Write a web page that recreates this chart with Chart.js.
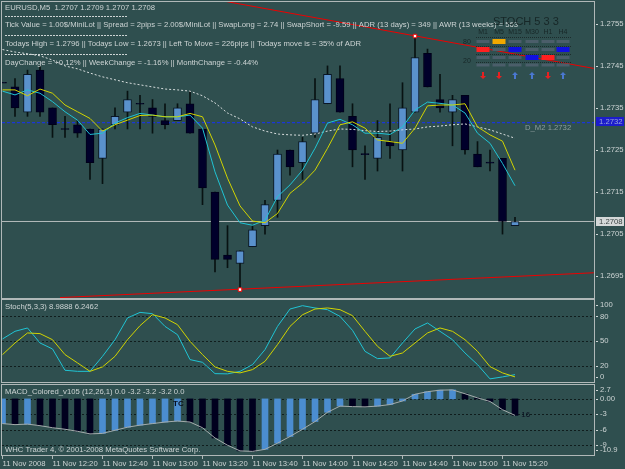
<!DOCTYPE html>
<html>
<head>
<meta charset="utf-8">
<script src="https://cdn.jsdelivr.net/npm/chart.js@4.4.1/dist/chart.umd.min.js"></script>
<style>
  html, body { margin: 0; padding: 0; width: 625px; height: 469px; overflow: hidden; background: #2f4f4f; }
  .pane { position: absolute; left: 0; width: 625px; }
  #pMain { top: 0; height: 299px; }
  #pStoch { top: 299px; height: 85px; }
  #pMacd { top: 384px; height: 85px; }
</style>
</head>
<body>
<div class="pane" id="pMain"><canvas id="cMain"></canvas></div>
<div class="pane" id="pStoch"><canvas id="cStoch"></canvas></div>
<div class="pane" id="pMacd"><canvas id="cMacd"></canvas></div>
<script>
// =======================
// Datos (EURUSD M5, 11 Nov 2008 12:00 - 15:25)
const opens = [1.2741, 1.2740, 1.2734, 1.2744, 1.2735, 1.2730, 1.2731, 1.2730, 1.2723, 1.2731, 1.2734, 1.2736, 1.2735, 1.2732,
  1.2732, 1.2736, 1.2730, 1.2715, 1.2700, 1.2698, 1.2702, 1.2707, 1.2713, 1.2725, 1.2722, 1.2729, 1.2736, 1.2742,
  1.2733, 1.2724, 1.2723, 1.2727, 1.2725, 1.2734, 1.2748, 1.2737, 1.2734, 1.2738, 1.2724, 1.2722, 1.2723, 1.2707];
const highs = [1.2741, 1.2742, 1.2744, 1.2745, 1.2735, 1.2733, 1.2732, 1.2730, 1.2730, 1.2735, 1.2739, 1.2738, 1.2737, 1.2736,
  1.2736, 1.2739, 1.2730, 1.2715, 1.2707, 1.2701, 1.2707, 1.2713, 1.2725, 1.2725, 1.2728, 1.2742, 1.2745, 1.2745,
  1.2736, 1.2726, 1.2732, 1.2736, 1.2741, 1.2752, 1.2749, 1.2743, 1.2738, 1.2738, 1.2727, 1.2725, 1.2723, 1.2709];
const lows = [1.2741, 1.2733, 1.2733, 1.2733, 1.2728, 1.2728, 1.2728, 1.2718, 1.2717, 1.2730, 1.2730, 1.2730, 1.2729, 1.2730,
  1.2732, 1.2729, 1.2712, 1.2696, 1.2697, 1.2692, 1.2702, 1.2705, 1.2709, 1.2719, 1.2718, 1.2728, 1.2736, 1.2734,
  1.2721, 1.2718, 1.2720, 1.2723, 1.2720, 1.2734, 1.2740, 1.2734, 1.2726, 1.2724, 1.2721, 1.2720, 1.2705, 1.2707];
const closes = [1.2741, 1.2735, 1.2743, 1.2734, 1.2731, 1.2730, 1.2729, 1.2722, 1.2730, 1.2733, 1.2737, 1.2736, 1.2733, 1.2731,
  1.2735, 1.2729, 1.2716, 1.2699, 1.2699, 1.2701, 1.2706, 1.2712, 1.2724, 1.2721, 1.2727, 1.2737, 1.2743, 1.2734,
  1.2725, 1.2724, 1.2728, 1.2726, 1.2735, 1.2747, 1.2740, 1.2735, 1.2737, 1.2725, 1.2721, 1.2722, 1.2708, 1.2708];

const maYellow = [1.27393, 1.27393, 1.27379, 1.27395, 1.27385, 1.27357, 1.27341, 1.27325, 1.27295, 1.27310, 1.27321, 1.27332,
  1.27333, 1.27329, 1.27329, 1.27337, 1.27329, 1.27262, 1.27183, 1.27117, 1.27081, 1.27077, 1.27099, 1.27147, 1.27171,
  1.27202, 1.27254, 1.27310, 1.27317, 1.27302, 1.27274, 1.27270, 1.27266, 1.27302, 1.27355, 1.27357, 1.27357, 1.27360,
  1.27305, 1.27286, 1.27271, 1.27202];
const maCyan = [1.27390, 1.27381, 1.27393, 1.27385, 1.27365, 1.27341, 1.27321, 1.27287, 1.27290, 1.27314, 1.27327, 1.27337,
  1.27333, 1.27329, 1.27329, 1.27333, 1.27302, 1.27198, 1.27119, 1.27077, 1.27071, 1.27083, 1.27139, 1.27167, 1.27202,
  1.27254, 1.27314, 1.27323, 1.27310, 1.27290, 1.27290, 1.27287, 1.27305, 1.27345, 1.27364, 1.27361, 1.27357, 1.27338,
  1.27290, 1.27266, 1.27218, 1.27165];
const maWhite = [1.27489, 1.27483, 1.27479, 1.27474, 1.27464, 1.27450, 1.27443, 1.27433, 1.27424, 1.27417, 1.27410, 1.27405,
  1.27400, 1.27395, 1.27393, 1.27390, 1.27379, 1.27362, 1.27338, 1.27324, 1.27305, 1.27295, 1.27288, 1.27286, 1.27285,
  1.27288, 1.27295, 1.27300, 1.27299, 1.27296, 1.27294, 1.27295, 1.27298, 1.27300, 1.27305, 1.27307, 1.27310, 1.27312,
  1.27305, 1.27298, 1.27288, 1.27278];

const stochMain = [52.5, 61.8, 65.9, 47.6, 40.3, 14.3, 13.0, 13.0, 31.3, 51.6, 78.1, 84.9, 83.3, 67.8, 57.7, 27.3, 24.0, 10.2,
  9.9, 13.0, 21.2, 39.5, 67.8, 89.0, 93.1, 90.3, 88.2, 80.0, 63.0, 37.4, 28.5, 29.4, 47.6, 64.7, 72.0, 61.8, 51.6, 35.4,
  21.2, 3.8, 6.2, 8.9888];
const stochSignal = [33.4, 47.6, 59.8, 59.0, 51.6, 33.4, 23.3, 13.0, 18.4, 31.3, 51.6, 68.7, 82.1, 78.1, 69.9, 49.6, 33.4,
  18.4, 13.0, 11.1, 15.1, 25.2, 45.6, 67.8, 82.0, 89.0, 90.3, 88.2, 80.9, 61.8, 43.5, 31.3, 35.4, 47.6, 59.8, 65.9, 61.8,
  51.6, 37.4, 18.8, 11.1, 6.2462];

const macdValues = [-4.8, -5.0, -4.9, -5.2, -5.6, -5.9, -6.3, -6.8, -6.7, -6.1, -5.5, -5.1, -4.8, -4.5, -4.3, -4.5, -5.6,
  -7.6, -9.0, -10.1, -10.2, -9.8, -8.6, -7.3, -5.9, -4.4, -2.6, -1.4, -1.5, -1.55, -1.4, -1.1, -0.4, 0.9, 1.4, 1.7, 1.75,
  1.0, 0.2, -0.5, -2.1, -3.2];

// niveles y lineas
const bidPrice = 1.2708;
const dM2Level = 1.27315;
const trendHigh = [[17.2, 1.27607], [47.3, 1.27444]];
const trendLow = [[4.6, 1.26899], [47.3, 1.26958]];
const trendMarks = [[33, 1.27521], [19, 1.26918]];

// ejes
const priceTicks = [1.2755, 1.2745, 1.2735, 1.2725, 1.2715, 1.2705, 1.2695];
const stochTicks = [100, 80, 50, 20, 0];
const stochLevels = [80, 50, 20];
const macdTicks = [2.7, 0, -3, -6, -9, -10.9];
const macdLevels = [0, -3, -6, -9];
const timeTicks = [0, 4, 8, 12, 16, 20, 24, 28, 32, 36, 40];
const timeLabels = ["11 Nov 2008", "11 Nov 12:20", "11 Nov 12:40", "11 Nov 13:00", "11 Nov 13:20", "11 Nov 13:40",
  "11 Nov 14:00", "11 Nov 14:20", "11 Nov 14:40", "11 Nov 15:00", "11 Nov 15:20"];

const infoLines = [
  "EURUSD,M5  1.2707 1.2709 1.2707 1.2708",
  "Tick Value = 1.00$/MiniLot || Spread = 2pips = 2.00$/MiniLot || SwapLong = 2.74 || SwapShort = -9.59 || ADR (13 days) = 349 || AWR (13 weeks) = 563",
  "Todays High = 1.2796 || Todays Low = 1.2673 || Left To Move = 226pips || Todays move is = 35% of ADR",
  "DayChange = +0.12% || WeekChange = -1.16% || MonthChange = -0.44%",
];
const stochTitle = "Stoch(5,3,3) 8.9888 6.2462";
const macdTitle = "MACD_Colored_v105 (12,26,1) 0.0 -3.2 -3.2 -3.2 0.0";
const footer = "WHC Trader 4, \u00a9 2001-2008 MetaQuotes Software Corp.";
const tfNames = ["M1", "M5", "M15", "M30", "H1", "H4"];
const tfArrowUp = [false, false, true, true, false, true];

// =======================
// Estilo
const FONT = '"Liberation Sans", Arial, sans-serif';
const TXT = "#cdd4d4";
const FRAME = "#b0b8b8";
const X_MIN = -0.04;
const X_MAX = 47.32;

const pts = (arr) => arr.map((v, i) => ({ x: i, y: v }));
const seg = (pairs) => pairs.map(([x, y]) => ({ x, y }));

function baseOptions(yMin, yMax, padding) {
  return {
    responsive: true,
    maintainAspectRatio: false,
    animation: false,
    events: [],
    layout: { autoPadding: false, padding },
    plugins: { legend: { display: false }, tooltip: { enabled: false } },
    scales: {
      x: { type: "linear", min: X_MIN, max: X_MAX, offset: false, display: false },
      y: {
        position: "right",
        min: yMin,
        max: yMax,
        grid: { display: false },
        border: { display: false },
        ticks: { display: false },
        afterFit: (s) => { s.width = 31; },
      },
    },
  };
}

// marco + etiquetas del eje derecho + niveles punteados
function panelPlugin(ticks, fmt, levels) {
  return {
    id: "panel",
    beforeDatasetsDraw(chart) {
      const { ctx, chartArea: a, scales } = chart;
      if (!levels) return;
      ctx.save();
      ctx.strokeStyle = "rgba(10,20,20,0.85)";
      ctx.lineWidth = 1;
      ctx.setLineDash([2, 2]);
      levels.forEach((v) => {
        const y = Math.round(scales.y.getPixelForValue(v)) + 0.5;
        ctx.beginPath();
        ctx.moveTo(a.left, y);
        ctx.lineTo(a.right, y);
        ctx.stroke();
      });
      ctx.restore();
    },
    afterDraw(chart) {
      const { ctx, chartArea: a, scales } = chart;
      ctx.save();
      ctx.strokeStyle = FRAME;
      ctx.lineWidth = 1;
      ctx.strokeRect(a.left - 0.5, a.top - 0.5, a.width + 1, a.height + 1);
      ctx.font = "7.7px " + FONT;
      ctx.fillStyle = TXT;
      ctx.textBaseline = "middle";
      ctx.textAlign = "left";
      ticks.forEach((v) => {
        let y = scales.y.getPixelForValue(v);
        y = Math.min(Math.max(y, a.top + 5), a.bottom - 5);
        ctx.fillRect(a.right + 2, Math.round(y), 2, 1);
        ctx.fillText(fmt(v), a.right + 6, y);
      });
      ctx.restore();
    },
  };
}

// =======================
// Panel principal: velas
const bodies = opens.map((o, i) => {
  const c = closes[i];
  const y = o === c ? [o - 0.000012, o + 0.000012] : [o, c];
  return { x: i, y };
});
const wicks = lows.map((l, i) => ({ x: i, y: [l, highs[i]] }));
const bull = opens.map((o, i) => closes[i] > o);

const mainOverlay = {
  id: "mainOverlay",
  afterDraw(chart) {
    const { ctx, chartArea: a, scales } = chart;
    const xs = scales.x, ys = scales.y;
    ctx.save();
    ctx.font = "7.7px " + FONT;
    ctx.textBaseline = "middle";
    ctx.fillStyle = TXT;
    const lineY = [8, 25, 44, 63];
    infoLines.forEach((t, i) => ctx.fillText(t, 5, lineY[i]));
    ctx.strokeStyle = TXT;
    ctx.setLineDash([2, 1]);
    [16, 35, 54].forEach((y) => {
      ctx.beginPath();
      ctx.moveTo(5, y + 0.5);
      ctx.lineTo(128, y + 0.5);
      ctx.stroke();
    });
    ctx.setLineDash([]);

    // etiqueta D_M2
    ctx.fillStyle = "#8c9c9c";
    ctx.fillText("D_M2 1.2732", xs.getPixelForValue(41.8), ys.getPixelForValue(dM2Level) + 5);

    // cajas de precio en el eje
    const box = (v, bg, fg) => {
      const y = Math.round(ys.getPixelForValue(v));
      ctx.fillStyle = bg;
      ctx.fillRect(a.right + 2, y - 4, 28, 9);
      ctx.fillStyle = fg;
      ctx.fillText(v.toFixed(4), a.right + 5, y + 0.5);
    };
    box(1.2732, "#1c1ccc", "#9aa6d8");
    box(bidPrice, "#d4d8d8", "#3a4444");

    // tabla STOCH 5 3 3
    ctx.fillStyle = "#172727";
    ctx.font = "11px " + FONT;
    ctx.fillText("STOCH 5 3 3", 493, 22);
    ctx.font = "7px " + FONT;
    ctx.textAlign = "center";
    const colX = [483, 499, 515, 532, 548, 563];
    tfNames.forEach((n, i) => ctx.fillText(n, colX[i], 32));
    ctx.fillText("80", 467, 42);
    ctx.fillText("20", 467, 61);
    ctx.strokeStyle = "#1c2c2c";
    ctx.setLineDash([1, 1]);
    [37, 46, 54, 62].forEach((y) => {
      ctx.beginPath();
      ctx.moveTo(476, y + 0.5);
      ctx.lineTo(571, y + 0.5);
      ctx.stroke();
    });
    ctx.setLineDash([]);
    const rowY = [41.5, 49.5, 57.5, 65];
    const cellColor = (r, c) => {
      if (r === 0 && c === 1) return "#f2a800";
      if (r === 1 && c === 0) return "#ff2020";
      if (r === 1 && (c === 2 || c === 5)) return "#1010e0";
      if (r === 2 && c === 3) return "#1010e0";
      if (r === 2 && c === 4) return "#ff2020";
      return "#4b5e6a";
    };
    rowY.forEach((y, r) => {
      colX.forEach((x, c) => {
        const col = cellColor(r, c);
        ctx.fillStyle = col;
        const h = col === "#4b5e6a" ? 3 : 5;
        ctx.fillRect(x - 6.5, y - h / 2, 13, h);
      });
    });
    colX.forEach((x, i) => {
      ctx.fillStyle = tfArrowUp[i] ? "#4a78d0" : "#e82020";
      ctx.beginPath();
      if (tfArrowUp[i]) {
        ctx.moveTo(x, 72); ctx.lineTo(x + 3, 75); ctx.lineTo(x + 1, 75); ctx.lineTo(x + 1, 79);
        ctx.lineTo(x - 1, 79); ctx.lineTo(x - 1, 75); ctx.lineTo(x - 3, 75);
      } else {
        ctx.moveTo(x, 79); ctx.lineTo(x + 3, 76); ctx.lineTo(x + 1, 76); ctx.lineTo(x + 1, 72);
        ctx.lineTo(x - 1, 72); ctx.lineTo(x - 1, 76); ctx.lineTo(x - 3, 76);
      }
      ctx.closePath();
      ctx.fill();
    });
    ctx.restore();
  },
};

new Chart(document.getElementById("cMain"), {
  type: "bar",
  data: {
    datasets: [
      { type: "line", label: "Bid", data: seg([[X_MIN, bidPrice], [X_MAX, bidPrice]]),
        borderColor: "#b4bcbc", borderWidth: 1, pointRadius: 0, order: 6 },
      { type: "line", label: "D_M2", data: seg([[X_MIN, dM2Level], [X_MAX, dM2Level]]),
        borderColor: "#1a36d8", borderWidth: 1.2, borderDash: [3, 2], pointRadius: 0, order: 5 },
      { label: "Mechas", data: wicks, grouped: false, barThickness: 1,
        backgroundColor: "#081212", borderWidth: 0, order: 4 },
      { label: "Velas", data: bodies, grouped: false, barThickness: 8, borderSkipped: false,
        backgroundColor: bull.map((b) => (b ? "#5a91cc" : "#00002a")),
        borderColor: bull.map((b) => (b ? "#0a1626" : "#000018")), borderWidth: 1, order: 3 },
      { type: "line", label: "MA lenta", data: pts(maWhite),
        borderColor: "#d8dede", borderWidth: 1, borderDash: [2, 2], pointRadius: 0, order: 2 },
      { type: "line", label: "MA amarilla", data: pts(maYellow),
        borderColor: "#d2d400", borderWidth: 1, pointRadius: 0, order: 1 },
      { type: "line", label: "MA cian", data: pts(maCyan),
        borderColor: "#20c4d4", borderWidth: 1, pointRadius: 0, order: 1 },
      { type: "line", label: "Tendencia alta", data: seg(trendHigh),
        borderColor: "#ee0000", borderWidth: 1, pointRadius: 0, order: 0 },
      { type: "line", label: "Tendencia baja", data: seg(trendLow),
        borderColor: "#ee0000", borderWidth: 1, pointRadius: 0, order: 0 },
      { type: "scatter", label: "Marcas", data: seg(trendMarks), pointStyle: "rect", pointRadius: 2.5,
        backgroundColor: "#ffffff", borderColor: "#ee0000", borderWidth: 1, order: -1 },
    ],
  },
  options: baseOptions(1.26898, 1.27602, { left: 2, top: 2, bottom: 1 }),
  plugins: [panelPlugin(priceTicks, (v) => v.toFixed(4)), mainOverlay],
});

// =======================
// Panel estocástico
const stochText = {
  id: "stochText",
  afterDraw(chart) {
    const { ctx } = chart;
    ctx.save();
    ctx.font = "7.7px " + FONT;
    ctx.fillStyle = TXT;
    ctx.textBaseline = "middle";
    ctx.fillText(stochTitle, 5, 8);
    ctx.restore();
  },
};

new Chart(document.getElementById("cStoch"), {
  type: "line",
  data: {
    datasets: [
      { label: "Signal", data: pts(stochSignal), borderColor: "#d2d400", borderWidth: 1, pointRadius: 0 },
      { label: "Main", data: pts(stochMain), borderColor: "#20c4d4", borderWidth: 1, pointRadius: 0 },
    ],
  },
  options: baseOptions(0, 100, { left: 2, top: 1, bottom: 2 }),
  plugins: [panelPlugin(stochTicks, (v) => String(v), stochLevels), stochText],
});

// =======================
// Panel MACD
const macdUp = macdValues.map((v, i) => i === 0 || v > macdValues[i - 1]);
const macdOpts = baseOptions(-10.9, 2.7, { left: 2, top: 1 });
macdOpts.scales.x = {
  type: "linear", min: X_MIN, max: X_MAX, offset: false, position: "bottom",
  border: { display: false },
  grid: { drawOnChartArea: false, drawTicks: true, tickLength: 4, color: FRAME, offset: false },
  afterBuildTicks: (s) => { s.ticks = timeTicks.map((v) => ({ value: v })); },
  afterFit: (s) => { s.height = 14; },
  ticks: {
    autoSkip: false, maxRotation: 0, align: "start", padding: 0, color: TXT,
    font: { family: FONT, size: 7.7 },
    callback: (v) => timeLabels[timeTicks.indexOf(v)],
  },
};

const macdText = {
  id: "macdText",
  afterDraw(chart) {
    const { ctx, scales } = chart;
    ctx.save();
    ctx.font = "7.7px " + FONT;
    ctx.fillStyle = TXT;
    ctx.textBaseline = "middle";
    ctx.fillText(macdTitle, 5, 8);
    ctx.fillText(footer, 5, 66);
    ctx.fillStyle = "#0a1020";
    ctx.font = "bold 8px " + FONT;
    ctx.fillText("TC", 173, 20);
    ctx.font = "8px " + FONT;
    ctx.fillText("16", scales.x.getPixelForValue(41.5), scales.y.getPixelForValue(-3.0));
    ctx.restore();
  },
};

new Chart(document.getElementById("cMacd"), {
  type: "bar",
  data: {
    datasets: [
      { type: "line", label: "Senal", data: pts(macdValues), borderColor: "#a4acac", borderWidth: 1, pointRadius: 0, order: 0 },
      { label: "MACD", data: pts(macdValues), grouped: false, barThickness: 6,
        backgroundColor: macdUp.map((u) => (u ? "#4b8dd0" : "#00001e")), borderWidth: 0, order: 1 },
    ],
  },
  options: macdOpts,
  plugins: [panelPlugin(macdTicks, (v) => (v === 0 ? "0.00" : String(v)), macdLevels), macdText],
});
</script>
</body>
</html>
